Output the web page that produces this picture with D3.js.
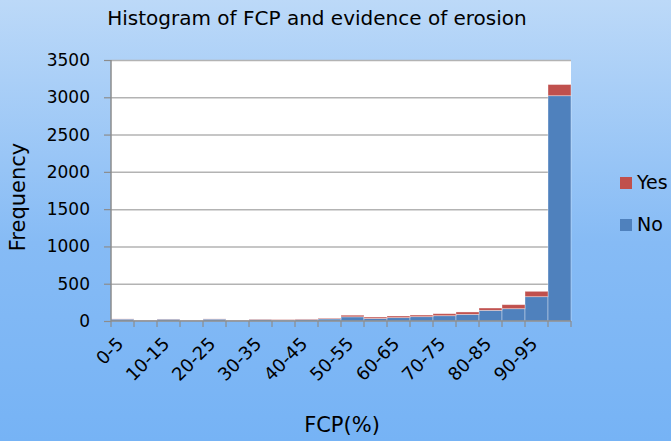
<!DOCTYPE html>
<html>
<head>
<meta charset="utf-8">
<script src="https://cdn.jsdelivr.net/npm/d3@7"></script>
<style>
  html, body { margin: 0; padding: 0; }
  body { width: 671px; height: 441px; overflow: hidden; }
  svg text { font-family: "Comic Sans MS", "DejaVu Sans", sans-serif; fill: #000; }
</style>
</head>
<body>
<svg id="chart" width="671" height="441"></svg>
<script>
const categories = ["0-5","5-10","10-15","15-20","20-25","25-30","30-35","35-40","40-45","45-50",
                    "50-55","55-60","60-65","65-70","70-75","75-80","80-85","85-90","90-95","95-100"];
const noValues  = [25, 10, 24, 9, 25, 9, 20, 14, 20, 28, 56, 33, 45, 58, 71, 89, 143, 165, 326, 3021];
const yesValues = [3, 3, 3, 4, 3, 4, 6, 6, 7, 10, 22, 20, 22, 22, 27, 32, 31, 54, 72, 150];
const seriesNames = ["No", "Yes"];
const yTicks = [0, 500, 1000, 1500, 2000, 2500, 3000, 3500];
const labelCategories = categories.filter((d, i) => i % 2 === 0);
const titleText = "Histogram of FCP and evidence of erosion";
const xTitle = "FCP(%)";
const yTitle = "Frequency";

const colors = { No: "#4f81bd", Yes: "#c0504d" };

const svg = d3.select("#chart");
const W = 671, H = 441;
const m = { left: 111, top: 60 };
const plotW = 571 - 111, plotH = 321 - 60;

// background gradient
const defs = svg.append("defs");
const grad = defs.append("linearGradient").attr("id", "bg").attr("x1", 0).attr("y1", 0).attr("x2", 0).attr("y2", 1);
grad.append("stop").attr("offset", "0%").attr("stop-color", "#bcd9f8");
grad.append("stop").attr("offset", "55%").attr("stop-color", "#86bbf5");
grad.append("stop").attr("offset", "100%").attr("stop-color", "#76b3f5");
svg.append("rect").attr("width", W).attr("height", H).attr("fill", "url(#bg)");

const x = d3.scaleBand().domain(categories).range([0, plotW]).paddingInner(0).paddingOuter(0);
const y = d3.scaleLinear().domain([0, 3500]).range([plotH, 0]);

const g = svg.append("g").attr("transform", `translate(${m.left},${m.top})`);

// plot area
g.append("rect").attr("width", plotW).attr("height", plotH).attr("fill", "#fff");

// gridlines
g.append("g").selectAll("line").data(yTicks.filter(d => d > 0)).join("line")
  .attr("x1", 0).attr("x2", plotW)
  .attr("y1", d => y(d) + 0.5).attr("y2", d => y(d) + 0.5)
  .attr("stroke", "#b3b3b3").attr("stroke-width", 1.5);

// stacked bars
const table = categories.map((c, i) => ({ cat: c, No: noValues[i], Yes: yesValues[i] }));
const stacked = d3.stack().keys(seriesNames)(table);
g.append("g").selectAll("g").data(stacked).join("g")
  .attr("fill", d => colors[d.key])
  .selectAll("rect").data(d => d).join("rect")
  .attr("x", d => x(d.data.cat))
  .attr("width", x.bandwidth())
  .attr("y", d => y(d[1]))
  .attr("height", d => y(d[0]) - y(d[1]))
  .attr("stroke", "rgba(255,255,255,0.45)")
  .attr("stroke-width", 0.8);

// y axis
const yAxis = g.append("g")
  .call(d3.axisLeft(y).tickValues(yTicks).tickSize(7).tickPadding(14).tickFormat(d3.format("d")));
yAxis.select(".domain").attr("stroke", "#8c8c8c").attr("stroke-width", 1.5).attr("d", `M0,0V${plotH}`);
yAxis.selectAll(".tick line").attr("stroke", "#8c8c8c").attr("stroke-width", 1.2);
yAxis.selectAll(".tick text").attr("font-size", 17).attr("font-family", null);

// x axis
const boundaries = d3.range(categories.length + 1);
const xa = g.append("g").attr("transform", `translate(0,${plotH})`);
xa.append("line").attr("x1", 0).attr("x2", plotW).attr("y1", 0).attr("y2", 0)
  .attr("stroke", "#8c8c8c").attr("stroke-width", 1.5);
xa.selectAll("line.tk").data(boundaries).join("line").attr("class", "tk")
  .attr("x1", i => i * x.step()).attr("x2", i => i * x.step())
  .attr("y1", 0).attr("y2", 6).attr("stroke", "#8c8c8c").attr("stroke-width", 1.2);
xa.selectAll("text.lbl").data(labelCategories).join("text").attr("class", "lbl")
  .attr("transform", d => `translate(${x(d) + x.bandwidth() / 2 + 2},${24}) rotate(-45)`)
  .attr("text-anchor", "end")
  .attr("font-size", 18)
  .text(d => d);

// titles
svg.append("text").attr("x", 317).attr("y", 25).attr("text-anchor", "middle")
  .attr("font-size", 20).text(titleText);
svg.append("text").attr("x", 342).attr("y", 432).attr("text-anchor", "middle")
  .attr("font-size", 21).text(xTitle);
svg.append("text").attr("transform", "translate(25,197) rotate(-90)").attr("text-anchor", "middle")
  .attr("font-size", 21).text(yTitle);

// legend
const legend = svg.append("g").attr("transform", "translate(620,177)");
const legendItems = ["Yes", "No"];
legend.selectAll("rect").data(legendItems).join("rect")
  .attr("x", 0).attr("y", (d, i) => i * 42).attr("width", 12).attr("height", 12)
  .attr("fill", d => colors[d]);
legend.selectAll("text").data(legendItems).join("text")
  .attr("x", 17).attr("y", (d, i) => i * 42 + 12)
  .attr("font-size", 19).text(d => d);
</script>
</body>
</html>
